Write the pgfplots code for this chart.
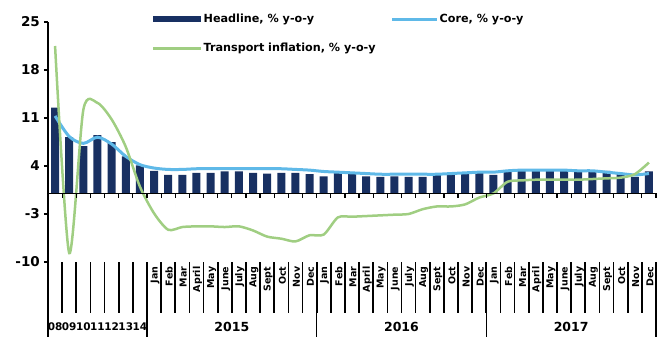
\documentclass[border=0pt]{standalone}
\usepackage{pgfplots}
\pgfplotsset{compat=1.18}
\usepackage{fontspec}
\setmainfont{DejaVu Sans}
\definecolor{headline}{RGB}{24,48,98}
\definecolor{core}{RGB}{95,185,232}
\definecolor{transport}{RGB}{160,206,130}
\begin{document}
\begin{tikzpicture}
\begin{axis}[name=ax, width=608pt, height=240pt, scale only axis, clip=false,
  xmin=-0.5, xmax=42.5, ymin=-10, ymax=25,
  axis y line*=left, axis x line*=bottom,
  x axis line style={draw=none},
  y axis line style={line width=1.5pt},
  ytick={-10,-3,4,11,18,25},
  tick align=outside, major tick length=4pt,
  y tick style={line width=1.2pt, black},
  x tick style={draw=none},
  yticklabel style={font=\bfseries\fontsize{13.5}{14}\selectfont, inner sep=2pt, xshift=-2pt},
  /pgf/number format/assume math mode=true,
  xtick={7,...,42},
  xticklabels={Jan,Feb,Mar,April,May,June,July,Aug,Sept,Oct,Nov,Dec,
               Jan,Feb,Mar,April,May,June,July,Aug,Sept,Oct,Nov,Dec,
               Jan,Feb,Mar,April,May,June,July,Aug,Sept,Oct,Nov,Dec},
  xticklabel style={rotate=90, anchor=east, font=\bfseries\fontsize{9.5}{10}\selectfont, inner sep=0.5pt, yshift=-1pt},
  legend columns=2,
  legend cell align=left,
  legend style={draw=none, fill=none, at={(axis description cs:0.166,1.045)}, anchor=north west,
    font=\bfseries\fontsize{11.2}{12}\selectfont, row sep=17pt,
    /tikz/every even column/.append style={column sep=14pt},
    nodes={inner sep=1pt}},
]
\addplot[ybar, bar width=8pt, fill=headline, draw=none,
  legend image code/.code={\fill[headline] (0pt,-3pt) rectangle (48pt,3pt);}]
coordinates {
(0,12.5) (1,8.2) (2,6.9) (3,8.5) (4,7.5) (5,5.4) (6,4.1)
(7,3.3) (8,2.7) (9,2.7) (10,3.0) (11,3.0) (12,3.2) (13,3.2) (14,3.0) (15,2.9) (16,3.0) (17,3.0) (18,2.8)
(19,2.5) (20,3.0) (21,3.0) (22,2.5) (23,2.4) (24,2.5) (25,2.4) (26,2.4) (27,2.7) (28,2.8) (29,2.9) (30,3.0)
(31,2.7) (32,3.3) (33,3.3) (34,3.3) (35,3.4) (36,3.3) (37,3.3) (38,3.4) (39,3.3) (40,2.8) (41,2.4) (42,3.2)
};
\addlegendentry{Headline, \% y-o-y}
\addplot[core, line width=3pt, smooth, tension=0.5,
  legend image code/.code={\draw[core, line width=3pt] (0pt,0pt) -- (45pt,0pt);}]
coordinates {
(0,11.3) (1,8.3) (2,7.3) (3,8.2) (4,7.2) (5,5.4) (6,4.2)
(7,3.7) (8,3.5) (9,3.5) (10,3.6) (11,3.6) (12,3.6) (13,3.6) (14,3.6) (15,3.6) (16,3.6) (17,3.5) (18,3.4)
(19,3.2) (20,3.1) (21,3.0) (22,2.9) (23,2.8) (24,2.8) (25,2.8) (26,2.8) (27,2.8) (28,2.9) (29,3.0) (30,3.1)
(31,3.1) (32,3.3) (33,3.4) (34,3.4) (35,3.4) (36,3.4) (37,3.3) (38,3.3) (39,3.1) (40,2.9) (41,2.7) (42,2.9)
};
\addlegendentry{Core, \% y-o-y}
\addplot[transport, line width=2.5pt, smooth, tension=0.45,
  legend image code/.code={\draw[transport, line width=2.5pt] (0pt,0pt) -- (48pt,0pt);}]
coordinates {
(0,21.5) (1,-8.7) (2,12.2) (3,13.2) (4,10.8) (5,6.8) (6,1.0)
(7,-2.9) (8,-5.3) (9,-4.9) (10,-4.8) (11,-4.8) (12,-4.9) (13,-4.8) (14,-5.4) (15,-6.3) (16,-6.6) (17,-7.0) (18,-6.1)
(19,-6.0) (20,-3.5) (21,-3.4) (22,-3.3) (23,-3.2) (24,-3.1) (25,-3.0) (26,-2.3) (27,-1.9) (28,-1.9) (29,-1.6) (30,-0.6)
(31,0.0) (32,1.7) (33,1.9) (34,2.0) (35,2.0) (36,2.0) (37,2.0) (38,2.1) (39,2.2) (40,2.3) (41,2.8) (42,4.5)
};
\addlegendentry{Transport inflation, \% y-o-y}
\pgfplotsextra{
  \draw[black, line width=1.5pt] (axis cs:-0.5,0) -- (axis cs:42.5,0);
  \foreach \k in {0,...,43} {
    \pgfmathsetmacro{\xx}{\k-0.5}
    \draw[black, line width=1.2pt] (axis cs:\xx,0) -- ++(0pt,-5pt);
    \draw[black, line width=1.7pt] (axis cs:\xx,-10) -- ++(0pt,-51pt);
  }
  \foreach \xx in {-0.5,6.5,18.5,30.5,42.5} {
    \draw[black, line width=1.5pt] (axis cs:\xx,-10) -- ++(0pt,-75pt);
  }
}
\node[font=\bfseries\fontsize{10.5}{11}\selectfont, inner sep=0pt] at ([yshift=-65pt]axis cs:0,-10) {08};
\node[font=\bfseries\fontsize{10.5}{11}\selectfont, inner sep=0pt] at ([yshift=-65pt]axis cs:1,-10) {09};
\node[font=\bfseries\fontsize{10.5}{11}\selectfont, inner sep=0pt] at ([yshift=-65pt]axis cs:2,-10) {10};
\node[font=\bfseries\fontsize{10.5}{11}\selectfont, inner sep=0pt] at ([yshift=-65pt]axis cs:3,-10) {11};
\node[font=\bfseries\fontsize{10.5}{11}\selectfont, inner sep=0pt] at ([yshift=-65pt]axis cs:4,-10) {12};
\node[font=\bfseries\fontsize{10.5}{11}\selectfont, inner sep=0pt] at ([yshift=-65pt]axis cs:5,-10) {13};
\node[font=\bfseries\fontsize{10.5}{11}\selectfont, inner sep=0pt] at ([yshift=-65pt]axis cs:6,-10) {14};
\node[font=\bfseries\fontsize{12.5}{13}\selectfont, inner sep=0pt] at ([yshift=-65pt]axis cs:12.5,-10) {2015};
\node[font=\bfseries\fontsize{12.5}{13}\selectfont, inner sep=0pt] at ([yshift=-65pt]axis cs:24.5,-10) {2016};
\node[font=\bfseries\fontsize{12.5}{13}\selectfont, inner sep=0pt] at ([yshift=-65pt]axis cs:36.5,-10) {2017};
\end{axis}
\pgfresetboundingbox
\path[use as bounding box] ([xshift=-48pt,yshift=-75pt]ax.south west) rectangle ([xshift=10pt,yshift=22pt]ax.north east);
\end{tikzpicture}
\end{document}
